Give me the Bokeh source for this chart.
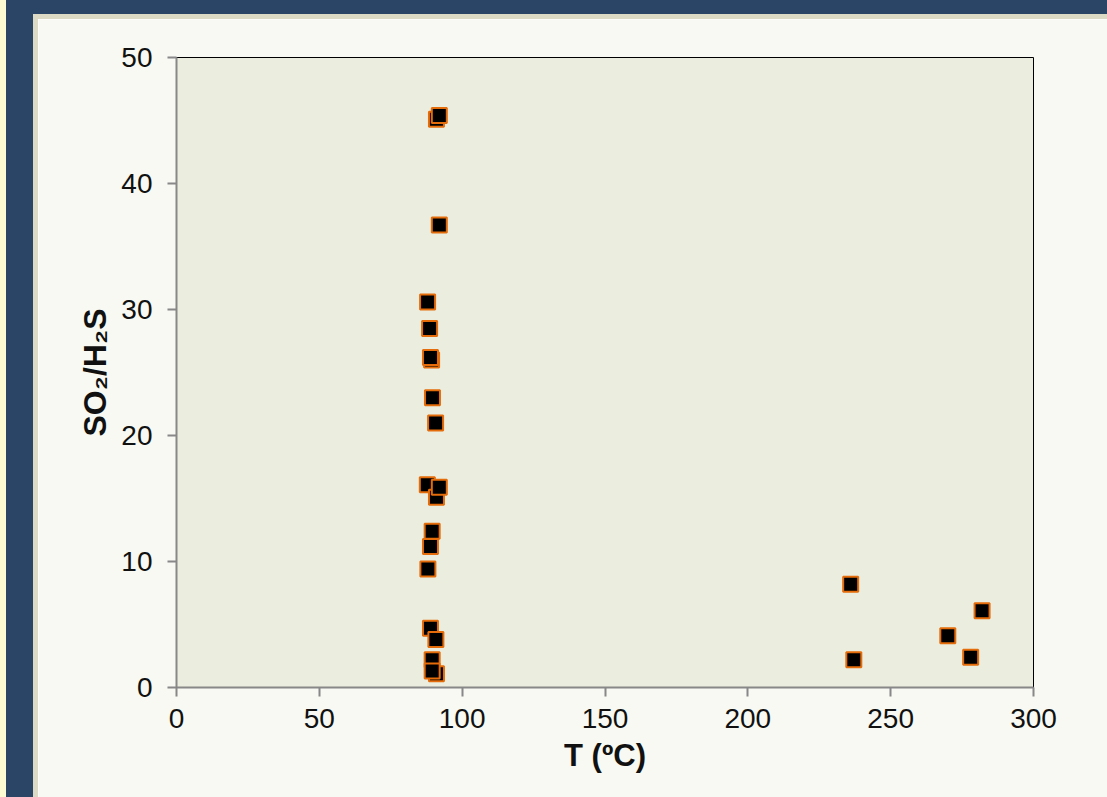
from bokeh.plotting import figure
from bokeh.models import Range1d, FixedTicker, Div
from bokeh.layouts import row, column
from bokeh.embed import file_html
from bokeh.resources import INLINE

# Data
temp_c = [91.0, 92.0, 92.0, 87.9, 88.6, 89.3, 88.9, 89.6, 90.7, 87.8,
          91.0, 92.0, 89.5, 88.9, 88.0, 88.9, 90.8, 89.5, 91.0, 89.5,
          236.0, 237.1, 270.0, 278.0, 282.0]
so2_h2s = [45.1, 45.4, 36.7, 30.6, 28.5, 26.0, 26.2, 23.0, 21.0, 16.1,
           15.1, 15.9, 12.4, 11.2, 9.4, 4.7, 3.8, 2.2, 1.1, 1.3,
           8.2, 2.2, 4.1, 2.4, 6.1]
x_ticks = [0, 50, 100, 150, 200, 250, 300]
y_ticks = [0, 10, 20, 30, 40, 50]
x_title = "T (ºC)"
y_title = "SO₂/H₂S"

FONT = "Liberation Sans"
DARK = "#2b4566"
PANEL = "#f7f9f2"
EDGE = "#dcd9c5"

p = figure(width=1069, height=778,
           x_range=Range1d(0, 300), y_range=Range1d(0, 50),
           output_backend="svg", toolbar_location=None,
           min_border_left=138, min_border_right=74,
           min_border_top=38, min_border_bottom=110,
           background_fill_color="#ebeedf", border_fill_color=PANEL)
p.outline_line_color = "#000000"
p.outline_line_width = 1
p.grid.visible = False

p.scatter(temp_c, so2_h2s, marker="square", size=15,
          fill_color="#000000", line_color="#e46c0a", line_width=2)

for ax, ticks in ((p.xaxis, x_ticks), (p.yaxis, y_ticks)):
    ax.ticker = FixedTicker(ticks=ticks)
    ax.minor_tick_line_color = None
    ax.major_tick_in = 0
    ax.major_tick_out = 9
    ax.major_tick_line_color = "#888888"
    ax.major_tick_line_width = 2
    ax.axis_line_color = "#888888"
    ax.axis_line_width = 2
    ax.major_label_text_font = FONT
    ax.major_label_text_font_size = "28px"
    ax.major_label_text_color = "#111111"
    ax.axis_label_text_font = FONT
    ax.axis_label_text_font_size = "31px"
    ax.axis_label_text_font_style = "bold"
    ax.axis_label_text_color = "#111111"

p.xaxis.axis_label = x_title
p.yaxis.axis_label = y_title
p.yaxis.axis_label_text_font_size = "32px"
p.xaxis.major_label_standoff = 12
p.yaxis.major_label_standoff = 15
p.xaxis.axis_label_standoff = 7
p.yaxis.axis_label_standoff = 5


def block(w, h, color):
    return Div(text="", width=w, height=h, margin=0,
               styles={"background-color": color})


layout = row(
    block(6, 797, "#fdfbd2"),
    block(27, 797, DARK),
    column(
        block(1074, 14, DARK),
        row(block(5, 783, EDGE),
            column(block(1069, 5, EDGE), p, spacing=0),
            spacing=0),
        spacing=0),
    spacing=0,
)

open("out.html", "w").write(file_html(layout, INLINE))
